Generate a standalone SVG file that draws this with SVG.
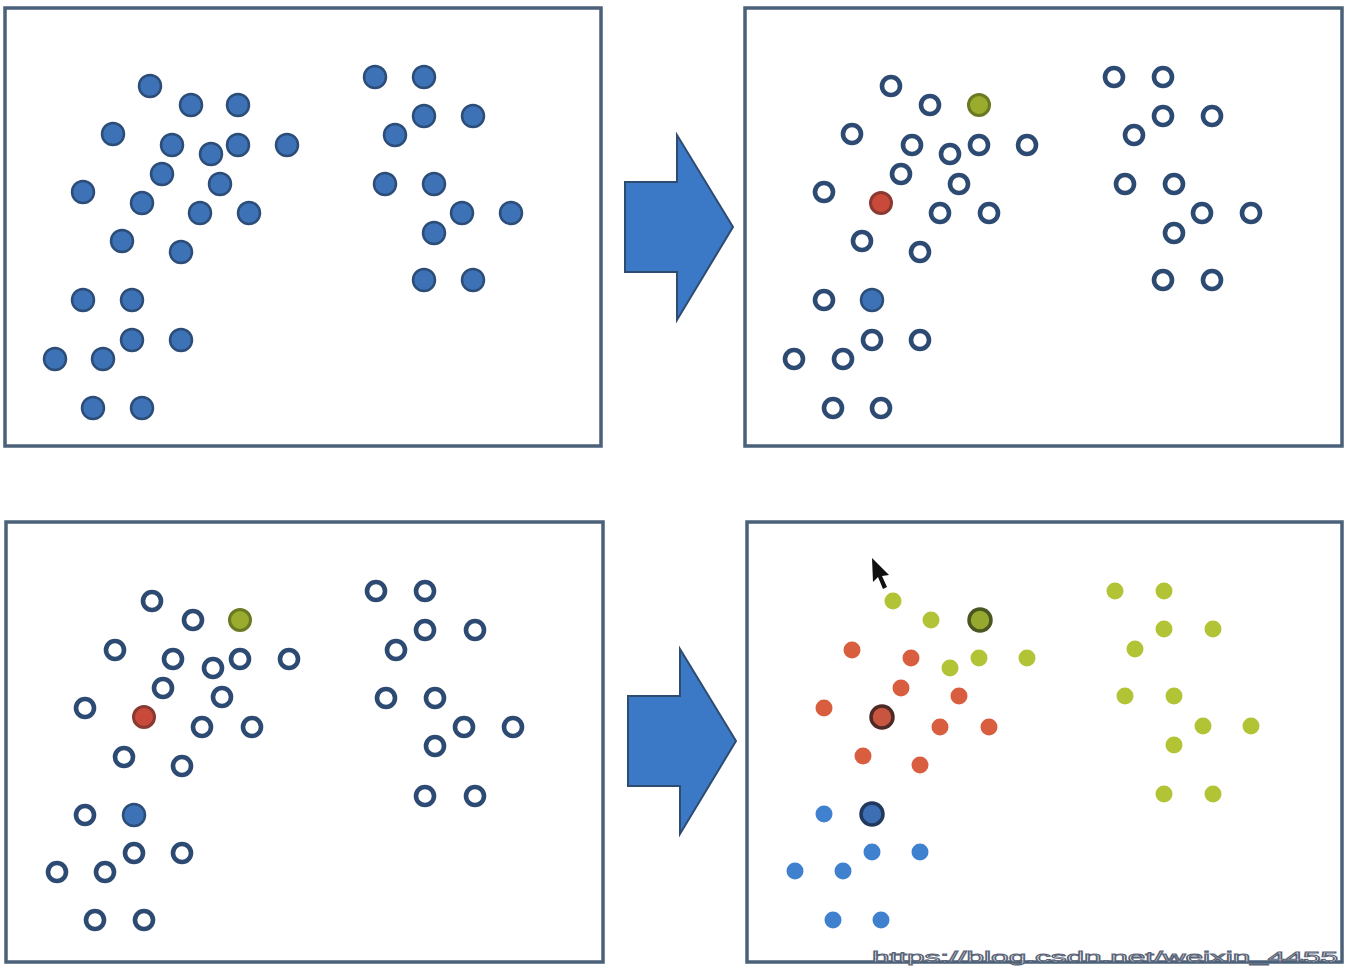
<svg xmlns="http://www.w3.org/2000/svg" width="1348" height="966" viewBox="0 0 1348 966">
<style>
.panel{fill:#fff;stroke:#4b6079;stroke-width:3.5}
.f{fill:#3d72b6;stroke:#2c4d78;stroke-width:2.5}
.h{fill:#fff;stroke:#2c4a72;stroke-width:4.6}
.gc{fill:#9aab2e;stroke:#6a7a22;stroke-width:3}
.rc{fill:#c94a3b;stroke:#8a3a30;stroke-width:3}
.r{fill:#d95d3f}
.g{fill:#b3c336}
.b{fill:#3f80cf}
.rC{fill:#c7553f;stroke:#4d2a26;stroke-width:3.5}
.gC{fill:#97a82e;stroke:#4b5722;stroke-width:3.5}
.bC{fill:#3d6db2;stroke:#22385c;stroke-width:3.5}
.arrow{fill:#3b78c6;stroke:#2e4b70;stroke-width:2}
.wm{font-family:"Liberation Sans",Arial,sans-serif;font-size:15px;fill:#fff;stroke:#5a6578;stroke-width:0.9}
</style>
<rect width="1348" height="966" fill="#fff"/>
<g id="panel-top-left">
<rect class="panel" x="5" y="8" width="596" height="438"/>
<g>
<circle class="f" cx="150" cy="86" r="11"/><circle class="f" cx="191" cy="105" r="11"/><circle class="f" cx="238" cy="105" r="11"/>
<circle class="f" cx="113" cy="134" r="11"/><circle class="f" cx="172" cy="145" r="11"/><circle class="f" cx="211" cy="154" r="11"/>
<circle class="f" cx="238" cy="145" r="11"/><circle class="f" cx="287" cy="145" r="11"/><circle class="f" cx="162" cy="174" r="11"/>
<circle class="f" cx="220" cy="184" r="11"/><circle class="f" cx="83" cy="192" r="11"/><circle class="f" cx="142" cy="203" r="11"/>
<circle class="f" cx="200" cy="213" r="11"/><circle class="f" cx="249" cy="213" r="11"/><circle class="f" cx="122" cy="241" r="11"/>
<circle class="f" cx="181" cy="252" r="11"/><circle class="f" cx="83" cy="300" r="11"/><circle class="f" cx="132" cy="300" r="11"/>
<circle class="f" cx="132" cy="340" r="11"/><circle class="f" cx="181" cy="340" r="11"/><circle class="f" cx="55" cy="359" r="11"/>
<circle class="f" cx="103" cy="359" r="11"/><circle class="f" cx="93" cy="408" r="11"/><circle class="f" cx="142" cy="408" r="11"/>
<circle class="f" cx="375" cy="77" r="11"/><circle class="f" cx="424" cy="77" r="11"/><circle class="f" cx="424" cy="116" r="11"/>
<circle class="f" cx="473" cy="116" r="11"/><circle class="f" cx="395" cy="135" r="11"/><circle class="f" cx="385" cy="184" r="11"/>
<circle class="f" cx="434" cy="184" r="11"/><circle class="f" cx="462" cy="213" r="11"/><circle class="f" cx="511" cy="213" r="11"/>
<circle class="f" cx="434" cy="233" r="11"/><circle class="f" cx="424" cy="280" r="11"/><circle class="f" cx="473" cy="280" r="11"/>
</g>
</g>
<g id="panel-top-right">
<rect class="panel" x="745" y="8" width="597" height="438"/>
<g>
<circle class="h" cx="891" cy="86" r="9"/><circle class="h" cx="930" cy="105" r="9"/><circle class="gc" cx="979" cy="105" r="10.5"/>
<circle class="h" cx="852" cy="134" r="9"/><circle class="h" cx="912" cy="145" r="9"/><circle class="h" cx="950" cy="154" r="9"/>
<circle class="h" cx="979" cy="145" r="9"/><circle class="h" cx="1027" cy="145" r="9"/><circle class="h" cx="901" cy="174" r="9"/>
<circle class="h" cx="959" cy="184" r="9"/><circle class="h" cx="824" cy="192" r="9"/><circle class="rc" cx="881" cy="203" r="10.5"/>
<circle class="h" cx="940" cy="213" r="9"/><circle class="h" cx="989" cy="213" r="9"/><circle class="h" cx="862" cy="241" r="9"/>
<circle class="h" cx="920" cy="252" r="9"/><circle class="h" cx="824" cy="300" r="9"/><circle class="f" cx="872" cy="300" r="11"/>
<circle class="h" cx="872" cy="340" r="9"/><circle class="h" cx="920" cy="340" r="9"/><circle class="h" cx="794" cy="359" r="9"/>
<circle class="h" cx="843" cy="359" r="9"/><circle class="h" cx="833" cy="408" r="9"/><circle class="h" cx="881" cy="408" r="9"/>
<circle class="h" cx="1114" cy="77" r="9"/><circle class="h" cx="1163" cy="77" r="9"/><circle class="h" cx="1163" cy="116" r="9"/>
<circle class="h" cx="1212" cy="116" r="9"/><circle class="h" cx="1134" cy="135" r="9"/><circle class="h" cx="1125" cy="184" r="9"/>
<circle class="h" cx="1174" cy="184" r="9"/><circle class="h" cx="1202" cy="213" r="9"/><circle class="h" cx="1251" cy="213" r="9"/>
<circle class="h" cx="1174" cy="233" r="9"/><circle class="h" cx="1163" cy="280" r="9"/><circle class="h" cx="1212" cy="280" r="9"/>
</g>
</g>
<g id="panel-bottom-left">
<rect class="panel" x="6" y="522" width="597" height="440"/>
<g>
<circle class="h" cx="152" cy="601" r="9"/><circle class="h" cx="193" cy="620" r="9"/><circle class="gc" cx="240" cy="620" r="10.5"/>
<circle class="h" cx="115" cy="650" r="9"/><circle class="h" cx="173" cy="659" r="9"/><circle class="h" cx="213" cy="668" r="9"/>
<circle class="h" cx="240" cy="659" r="9"/><circle class="h" cx="289" cy="659" r="9"/><circle class="h" cx="163" cy="688" r="9"/>
<circle class="h" cx="222" cy="697" r="9"/><circle class="h" cx="85" cy="708" r="9"/><circle class="rc" cx="144" cy="717" r="10.5"/>
<circle class="h" cx="202" cy="727" r="9"/><circle class="h" cx="252" cy="727" r="9"/><circle class="h" cx="124" cy="757" r="9"/>
<circle class="h" cx="182" cy="766" r="9"/><circle class="h" cx="85" cy="815" r="9"/><circle class="f" cx="134" cy="815" r="11"/>
<circle class="h" cx="134" cy="853" r="9"/><circle class="h" cx="182" cy="853" r="9"/><circle class="h" cx="57" cy="872" r="9"/>
<circle class="h" cx="105" cy="872" r="9"/><circle class="h" cx="95" cy="920" r="9"/><circle class="h" cx="144" cy="920" r="9"/>
<circle class="h" cx="376" cy="591" r="9"/><circle class="h" cx="425" cy="591" r="9"/><circle class="h" cx="425" cy="630" r="9"/>
<circle class="h" cx="475" cy="630" r="9"/><circle class="h" cx="396" cy="650" r="9"/><circle class="h" cx="386" cy="698" r="9"/>
<circle class="h" cx="435" cy="698" r="9"/><circle class="h" cx="464" cy="727" r="9"/><circle class="h" cx="513" cy="727" r="9"/>
<circle class="h" cx="435" cy="746" r="9"/><circle class="h" cx="425" cy="796" r="9"/><circle class="h" cx="475" cy="796" r="9"/>
</g>
</g>
<g id="panel-bottom-right">
<rect class="panel" x="747" y="522" width="595" height="440"/>
<g>
<circle class="g" cx="893" cy="601" r="8.5"/><circle class="g" cx="931" cy="620" r="8.5"/><circle class="gC" cx="980" cy="620" r="11"/>
<circle class="r" cx="852" cy="650" r="8.5"/><circle class="r" cx="911" cy="658" r="8.5"/><circle class="g" cx="950" cy="668" r="8.5"/>
<circle class="g" cx="979" cy="658" r="8.5"/><circle class="g" cx="1027" cy="658" r="8.5"/><circle class="r" cx="901" cy="688" r="8.5"/>
<circle class="r" cx="959" cy="696" r="8.5"/><circle class="r" cx="824" cy="708" r="8.5"/><circle class="rC" cx="882" cy="717" r="11"/>
<circle class="r" cx="940" cy="727" r="8.5"/><circle class="r" cx="989" cy="727" r="8.5"/><circle class="r" cx="863" cy="756" r="8.5"/>
<circle class="r" cx="920" cy="765" r="8.5"/><circle class="b" cx="824" cy="814" r="8.5"/><circle class="bC" cx="872" cy="814" r="11"/>
<circle class="b" cx="872" cy="852" r="8.5"/><circle class="b" cx="920" cy="852" r="8.5"/><circle class="b" cx="795" cy="871" r="8.5"/>
<circle class="b" cx="843" cy="871" r="8.5"/><circle class="b" cx="833" cy="920" r="8.5"/><circle class="b" cx="881" cy="920" r="8.5"/>
<circle class="g" cx="1115" cy="591" r="8.5"/><circle class="g" cx="1164" cy="591" r="8.5"/><circle class="g" cx="1164" cy="629" r="8.5"/>
<circle class="g" cx="1213" cy="629" r="8.5"/><circle class="g" cx="1135" cy="649" r="8.5"/><circle class="g" cx="1125" cy="696" r="8.5"/>
<circle class="g" cx="1174" cy="696" r="8.5"/><circle class="g" cx="1203" cy="726" r="8.5"/><circle class="g" cx="1251" cy="726" r="8.5"/>
<circle class="g" cx="1174" cy="745" r="8.5"/><circle class="g" cx="1164" cy="794" r="8.5"/><circle class="g" cx="1213" cy="794" r="8.5"/>
</g>
<polygon fill="#111" points="872,558 873,582 878,577 883,589 887,587 882,576 889,575"/>
</g>
<g id="connectors">
<polygon class="arrow" points="625,182 677,182 677,135 733,227 677,320 677,272 625,272"/>
<polygon class="arrow" points="628,696 680,696 680,649 736,741 680,834 680,786 628,786"/>
</g>
<text class="wm" x="872" y="962" textLength="466" lengthAdjust="spacingAndGlyphs">https://blog.csdn.net/weixin_4455</text>
</svg>
